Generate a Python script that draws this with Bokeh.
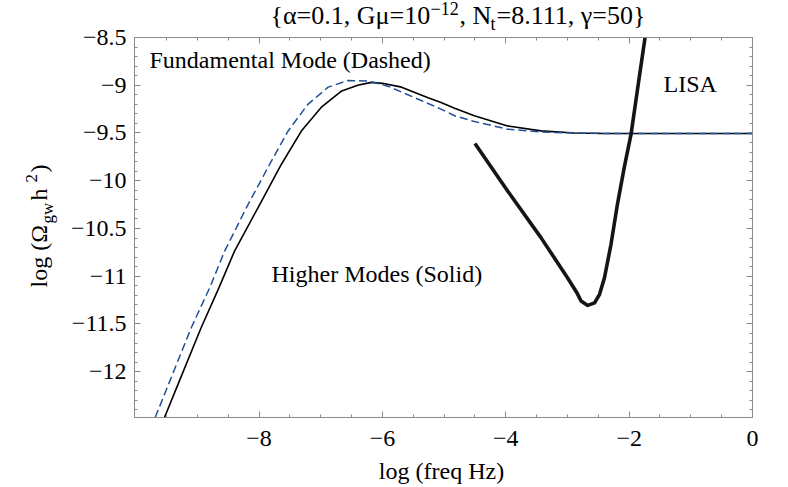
from bokeh.plotting import figure
from bokeh.models import Label, LinearAxis, FixedTicker, CustomJSTickFormatter, Range1d
from bokeh.embed import file_html
from bokeh.resources import INLINE

# ---------------- data ----------------
solid_x = [-9.534, -9.30, -8.94, -8.65, -8.40, -7.99, -7.64, -7.315, -6.99, -6.66, -6.40, -6.18, -6.00,
           -5.69, -5.26, -5.05, -4.83, -4.51, -3.97, -3.43, -2.89, -2.40, -1.50, 0.0]
solid_y = [-12.48, -12.11, -11.54, -11.12, -10.74, -10.25, -9.83, -9.48, -9.23, -9.06, -9.00, -8.97, -8.98,
           -9.02, -9.13, -9.18, -9.24, -9.32, -9.426, -9.478, -9.50, -9.505, -9.505, -9.505]

dash_x = [-9.685, -9.10, -8.80, -8.56, -8.18, -7.83, -7.53, -7.21, -6.88, -6.56, -6.24, -5.91,
          -5.37, -5.05, -4.83, -4.51, -3.97, -3.43, -2.89, -2.40, 0.0]
dash_y = [-12.48, -11.54, -11.12, -10.74, -10.25, -9.83, -9.48, -9.20, -9.02, -8.95, -8.955, -9.01,
          -9.16, -9.25, -9.32, -9.38, -9.46, -9.49, -9.50, -9.505, -9.505]

lisa_x = [-4.50, -3.97, -3.43, -3.00, -2.85, -2.78, -2.672, -2.56, -2.48, -2.40, -2.294, -2.19,
          -2.08, -1.969, -1.86, -1.742]
lisa_y = [-9.611, -10.107, -10.596, -11.016, -11.17, -11.26, -11.306, -11.28, -11.19, -11.016, -10.666,
          -10.247, -9.863, -9.513, -9.024, -8.50]

x_major = [-8, -6, -4, -2, 0]
x_minor = [-9.5, -9, -8.5, -8, -7.5, -7, -6.5, -6, -5.5, -5, -4.5, -4, -3.5, -3, -2.5, -2, -1.5, -1, -0.5, 0]
y_major = [-12, -11.5, -11, -10.5, -10, -9.5, -9, -8.5]
y_minor = [round(-12.4 + 0.1 * i, 1) for i in range(40)]

title_parts = ["{\u03b1=0.1, G\u03bc=10", "\u221212", ", N", "t", "=8.111, \u03b3=50}"]
ylabel_parts = ["log (\u03a9", "gw", " h", "2", ")"]
xlabel_text = "log (freq Hz)"
annot_texts = ["Fundamental Mode (Dashed)", "Higher Modes (Solid)", "LISA"]

# ---------------- layout ----------------
# plotting box (data) and where it sits on the canvas (px)
XS, XE = -10.02, 0.0
YS, YE = -12.48, -8.5
W, H = 788, 487
BL, BR, BT, BB = 134, 752, 37, 417
FONT = "Liberation Serif"
BASE_SHIFT = 0.42   # measured offset (in em) of the rendered baseline

kx = (XE - XS) / (BR - BL)   # data per px
ky = (YE - YS) / (BB - BT)

def dx(px):
    return XS + (px - BL) * kx

def dy(py):
    return YE - (py - BT) * ky

p = figure(width=W, height=H, output_backend="svg", toolbar_location=None,
           x_range=Range1d(dx(0), dx(W)), y_range=Range1d(dy(H), dy(0)),
           x_axis_location=None, y_axis_location=None,
           min_border=0, min_border_left=0, min_border_right=0, min_border_top=0, min_border_bottom=0)
p.grid.visible = False
p.outline_line_color = None
p.background_fill_color = "white"
p.border_fill_color = "white"

fmt = CustomJSTickFormatter(code="return (tick < 0 ? '\u2212' : '') + Math.abs(tick).toString();")
blank = CustomJSTickFormatter(code="return '';")

def make_axis(ticks, minors, loc, bounds, labels):
    ax = LinearAxis(ticker=FixedTicker(ticks=ticks, minor_ticks=minors),
                    fixed_location=loc, bounds=bounds)
    ax.axis_line_color = "#8a8a8a"
    ax.major_tick_line_color = "#8a8a8a"
    ax.minor_tick_line_color = "#8a8a8a"
    ax.major_tick_in = 6
    ax.major_tick_out = 0
    ax.minor_tick_in = 3
    ax.minor_tick_out = 0
    if labels:
        ax.major_label_text_font = FONT
        ax.major_label_text_font_size = "24px"
        ax.major_label_text_color = "black"
        ax.formatter = fmt
    else:
        ax.formatter = blank
    return ax

bottom_ax = make_axis(x_major, x_minor, YS, (XS, XE), True)
bottom_ax.major_label_standoff = 13
left_ax = make_axis(y_major, y_minor, XS, (YS, YE), True)
left_ax.major_label_standoff = 8
top_ax = make_axis(x_major, x_minor, YE, (XS, XE), False)
right_ax = make_axis(y_major, y_minor, XE, (YS, YE), False)
p.add_layout(bottom_ax, "below")
p.add_layout(left_ax, "left")
p.add_layout(top_ax, "above")
p.add_layout(right_ax, "right")

# ---------------- curves ----------------
p.line(solid_x, solid_y, line_color="black", line_width=1.6)
p.line(dash_x, dash_y, line_color="#1f4f9c", line_width=1.5, line_dash="8 4")
p.line(lisa_x, lisa_y, line_color="#151515", line_width=3.6, line_join="round", line_cap="butt")

# ---------------- annotations ----------------
def add_label(text, px, py, size, align="left", angle=0, color="black"):
    # px, py: wanted baseline anchor on the canvas
    if angle == 0:
        py = py - BASE_SHIFT * size
    else:
        px = px - BASE_SHIFT * size
    p.add_layout(Label(x=dx(px), y=dy(py), text=text, text_font=FONT, text_font_size=f"{size}px",
                       text_align=align, text_baseline="alphabetic", text_color=color,
                       angle=angle, angle_units="deg"))

add_label(annot_texts[0], 149, 70, 24)
add_label(annot_texts[1], 271, 284, 24)
add_label(annot_texts[2], 663, 94, 24)

# x-axis label
add_label(xlabel_text, 441, 481, 24, align="center")

# title pieces (canvas px)
tx = 270
ty = 26
add_label(title_parts[0], tx, ty, 26); tx += 160
add_label(title_parts[1], tx, ty - 10, 18); tx += 29
add_label(title_parts[2], tx, ty, 26); tx += 31
add_label(title_parts[3], tx, ty + 5, 18); tx += 6
add_label(title_parts[4], tx, ty, 26)

# y-axis label pieces (rotated, reading upward)
yb = 49
yy = 287
add_label(ylabel_parts[0], yb, yy, 24, angle=90); yy -= 64
add_label(ylabel_parts[1], yb + 5, yy, 17, angle=90); yy -= 23
add_label(ylabel_parts[2], yb, yy, 24, angle=90); yy -= 18
add_label(ylabel_parts[3], yb - 11, yy, 17, angle=90); yy -= 10
add_label(ylabel_parts[4], yb, yy, 24, angle=90)

open("out.html", "w").write(file_html(p, INLINE))
